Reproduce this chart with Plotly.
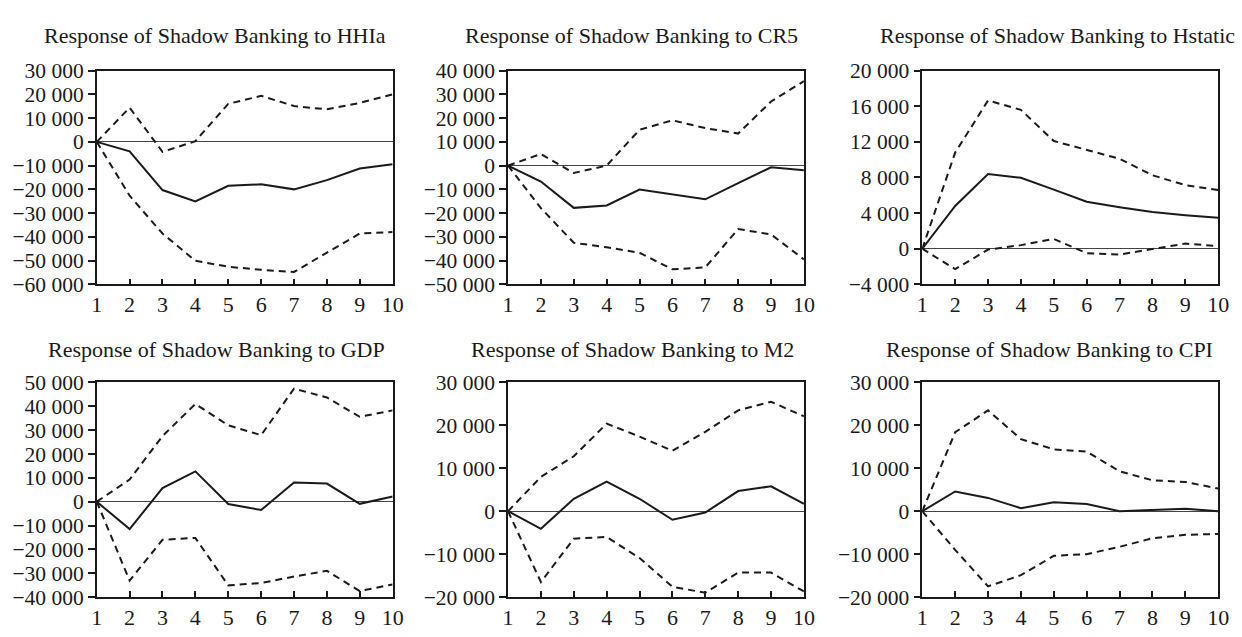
import plotly.graph_objects as go

periods = list(range(1, 11))

titles = [
    "Response of Shadow Banking to HHIa",
    "Response of Shadow Banking to CR5",
    "Response of Shadow Banking to Hstatic",
    "Response of Shadow Banking to GDP",
    "Response of Shadow Banking to M2",
    "Response of Shadow Banking to CPI",
]

# impulse responses (solid) and ±2 S.E. bands (dashed)
hhia_resp = [0, -4000, -20300, -25100, -18500, -17900, -20000, -16100, -11200, -9400]
hhia_up = [0, 14400, -4200, 300, 16000, 19400, 15100, 13700, 16400, 20000]
hhia_lo = [0, -22700, -38600, -50100, -52600, -53900, -54800, -46600, -38600, -38000]

cr5_resp = [0, -6700, -17800, -16800, -10100, -12100, -14200, -7400, -700, -2000]
cr5_up = [0, 4900, -3100, 0, 15100, 19100, 15800, 13500, 27000, 35600]
cr5_lo = [0, -17900, -32500, -34400, -36700, -43700, -42900, -26700, -29000, -39500]

hst_resp = [0, 4800, 8400, 7970, 6640, 5270, 4660, 4120, 3760, 3480]
hst_up = [0, 10800, 16650, 15600, 12100, 11100, 10100, 8250, 7140, 6600]
hst_lo = [0, -2300, -100, 400, 1100, -500, -650, 0, 570, 300]

gdp_resp = [0, -11500, 5700, 12700, -1000, -3500, 8000, 7600, -900, 2200]
gdp_up = [0, 9300, 27500, 41000, 32000, 27900, 47400, 43700, 35600, 38300]
gdp_lo = [0, -33100, -16000, -15200, -35100, -34100, -31400, -29000, -37500, -34700]

m2_resp = [0, -4100, 2900, 6900, 2900, -2000, -300, 4700, 5800, 1700]
m2_up = [0, 8000, 12800, 20400, 17400, 14100, 18500, 23500, 25500, 22100]
m2_lo = [0, -16500, -6400, -6000, -10900, -17600, -19000, -14300, -14300, -18700]

cpi_resp = [0, 4600, 3100, 700, 2100, 1700, 0, 300, 600, 0]
cpi_up = [0, 18400, 23500, 16800, 14400, 13900, 9300, 7200, 6800, 5300]
cpi_lo = [0, -9000, -17500, -14900, -10400, -10000, -8300, -6300, -5500, -5300]

# y-axis ticks for each panel
ticks_hhia = [30000, 20000, 10000, 0, -10000, -20000, -30000, -40000, -50000, -60000]
ticks_cr5 = [40000, 30000, 20000, 10000, 0, -10000, -20000, -30000, -40000, -50000]
ticks_hst = [20000, 16000, 12000, 8000, 4000, 0, -4000]
ticks_gdp = [50000, 40000, 30000, 20000, 10000, 0, -10000, -20000, -30000, -40000]
ticks_m2 = [30000, 20000, 10000, 0, -10000, -20000]
ticks_cpi = [30000, 20000, 10000, 0, -10000, -20000]

panels = [
    (hhia_resp, hhia_up, hhia_lo, ticks_hhia),
    (cr5_resp, cr5_up, cr5_lo, ticks_cr5),
    (hst_resp, hst_up, hst_lo, ticks_hst),
    (gdp_resp, gdp_up, gdp_lo, ticks_gdp),
    (m2_resp, m2_up, m2_lo, ticks_m2),
    (cpi_resp, cpi_up, cpi_lo, ticks_cpi),
]

W, H = 1242, 637

# panel frames and title centres in pixels
x_px = [(92, 392), (509, 809), (929, 1229)]
y_px = [(62, 284), (386, 609)]
title_cx = [212, 634, 1066, 213, 635, 1058]
title_cy = [25, 352]


def px_x(v):
    return v / W


def px_y(v):
    return 1 - v / H


def fmt(v):
    s = f"{abs(v):,}".replace(",", " ")
    return ("\u2212" + s) if v < 0 else s


FONT = "Liberation Serif, Times New Roman, serif"
INK = "#1a1a1a"

fig = go.Figure()
layout = dict(
    width=W, height=H,
    margin=dict(l=0, r=0, t=0, b=0),
    paper_bgcolor="white", plot_bgcolor="white",
    showlegend=False,
    font=dict(family=FONT, size=21, color=INK),
    annotations=[],
)

for i, (resp, up, lo, yt) in enumerate(panels):
    r, c = divmod(i, 3)
    n = i + 1
    xa = "x" if n == 1 else f"x{n}"
    ya = "y" if n == 1 else f"y{n}"
    for series, dash in ((up, "7px,5px"), (lo, "7px,5px"), (resp, "solid")):
        fig.add_trace(go.Scatter(
            x=periods, y=series, mode="lines", xaxis=xa, yaxis=ya,
            line=dict(color=INK, width=2, dash=dash), hoverinfo="skip",
        ))
    x0, x1 = x_px[c]
    yt0, yb0 = y_px[r]
    layout[f"xaxis{'' if n == 1 else n}"] = dict(
        domain=[px_x(x0), px_x(x1)], anchor=ya, range=[1, 10],
        tickvals=periods, ticktext=[str(p) for p in periods],
        ticks="inside", ticklen=6, tickwidth=1.5, tickcolor=INK,
        showline=True, linecolor=INK, linewidth=1.5, mirror=True,
        showgrid=False, zeroline=False,
        tickfont=dict(family=FONT, size=22, color=INK),
    )
    layout[f"yaxis{'' if n == 1 else n}"] = dict(
        domain=[px_y(yb0), px_y(yt0)], anchor=xa,
        range=[min(yt), max(yt)],
        tickvals=yt, ticktext=[fmt(v) for v in yt],
        ticks="outside", ticklen=7, tickwidth=1.5, tickcolor=INK,
        showline=True, linecolor=INK, linewidth=1.5, mirror=True,
        showgrid=False, zeroline=True, zerolinecolor="#444444", zerolinewidth=1.3,
        tickfont=dict(family=FONT, size=21.5, color=INK),
    )
    layout["annotations"].append(dict(
        text=titles[i], xref="paper", yref="paper",
        x=px_x(title_cx[i]), y=px_y(title_cy[r]),
        xanchor="center", yanchor="middle", showarrow=False,
        font=dict(family=FONT, size=22, color=INK),
    ))

fig.update_layout(**layout)
fig.write_html("out.html")
